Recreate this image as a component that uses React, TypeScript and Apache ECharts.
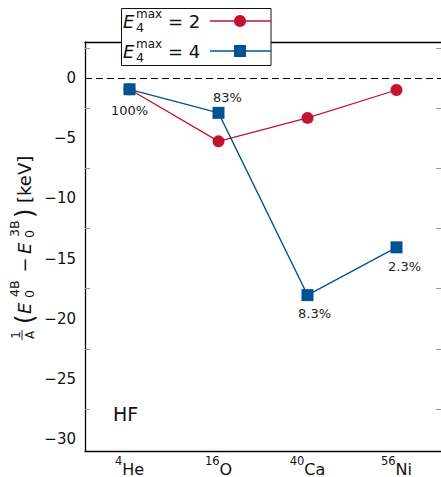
import React, { useEffect, useRef } from "react";
import * as echarts from "echarts";

const categories = ["4He", "16O", "40Ca", "56Ni"];
const massNumbers = ["4", "16", "40", "56"];
const elementSymbols = ["He", "O", "Ca", "Ni"];
const emax2Values = [-0.93, -5.26, -3.31, -0.99];
const emax4Values = [-0.93, -2.89, -18.04, -14.07];
const emax4Labels = ["100%", "83%", "8.3%", "2.3%"];
const legendValues = ["2", "4"];

const RED = "#c41230";
const BLUE = "#005293";
const FONT = '"DejaVu Sans"';
const labelOffsets = [
  [0, 21],
  [9, -15],
  [7, 18],
  [8, 19],
];

function txt(x: number, y: number, text: string, size: number, opts: any = {}) {
  return {
    type: "text",
    x,
    y,
    z: 100,
    style: {
      text,
      font: `${opts.italic ? "italic " : ""}${size}px ${FONT}`,
      fill: "#111",
      align: opts.align || "left",
      verticalAlign: "middle",
    },
  };
}

function yLabel() {
  const m = 24;
  return {
    type: "group",
    x: 0,
    y: 342,
    rotation: Math.PI / 2,
    children: [
      txt(7, 15.5, "1", 12, { align: "center" }),
      { type: "line", z: 100, shape: { x1: 2, y1: 22, x2: 12, y2: 22 }, style: { stroke: "#111", lineWidth: 0.9 } },
      txt(7, 29.5, "A", 12, { align: "center" }),
      txt(18, m + 1, "(", 24),
      txt(28, m, "E", 18, { italic: true }),
      txt(45, m - 9.5, "4B", 12.6),
      txt(44, m + 5, "0", 12.6),
      txt(77, m, "\u2212", 18, { align: "center" }),
      txt(88, m, "E", 18, { italic: true }),
      txt(105, m - 9.5, "3B", 12.6),
      txt(104, m + 5, "0", 12.6),
      txt(124, m + 1, ")", 24),
      txt(139, m, "[keV]", 18),
    ],
  };
}

function legendEntry(y: number, i: number) {
  const color = i === 0 ? RED : BLUE;
  const marker =
    i === 0
      ? { type: "circle", z: 101, shape: { cx: 240, cy: y, r: 6 }, style: { fill: color } }
      : { type: "rect", z: 101, shape: { x: 234, y: y - 6, width: 12, height: 12 }, style: { fill: color } };
  return [
    txt(123, y, "E", 18, { italic: true }),
    txt(136, y - 7, "max", 12),
    txt(136, y + 6, "4", 12.6),
    txt(168, y, "= " + legendValues[i], 18),
    { type: "line", z: 101, shape: { x1: 210, y1: y, x2: 271, y2: y }, style: { stroke: color, lineWidth: 1.3 } },
    marker,
  ];
}

export default function App() {
  const ref = useRef<HTMLDivElement>(null);
  useEffect(() => {
    const chart = echarts.init(ref.current!, null, { renderer: "svg" });
    const tickStyle = { color: "#999", width: 1 };
    const option: any = {
      animation: false,
      backgroundColor: "#fff",
      textStyle: { fontFamily: FONT },
      grid: { left: 85, top: 42, width: 357, height: 411 },
      xAxis: [
        {
          type: "category",
          data: categories,
          position: "bottom",
          axisLine: { onZero: false, lineStyle: { color: "#000", width: 1.3 } },
          axisTick: { inside: true, length: 10, alignWithLabel: true, lineStyle: tickStyle },
          axisLabel: {
            interval: 0,
            margin: 4,
            formatter: (_v: string, i: number) => `{sup|${massNumbers[i]}}{el|${elementSymbols[i]}}`,
            rich: {
              sup: { fontSize: 11.5, lineHeight: 10, verticalAlign: "top", fontFamily: FONT, color: "#111" },
              el: { fontSize: 16, lineHeight: 22, verticalAlign: "bottom", fontFamily: FONT, color: "#111" },
            },
          },
          splitLine: { show: false },
        },
        {
          type: "category",
          data: categories,
          position: "top",
          axisLine: { onZero: false, lineStyle: { color: "#000", width: 1.3 } },
          axisTick: { inside: true, length: 10, alignWithLabel: true, interval: 0, lineStyle: tickStyle },
          axisLabel: { show: false },
          splitLine: { show: false },
        },
      ],
      yAxis: [
        {
          type: "value",
          min: -31,
          max: 3,
          splitNumber: 7,
          position: "left",
          axisLine: { show: true, onZero: false, lineStyle: { color: "#000", width: 1.3 } },
          axisTick: { inside: true, length: 10, lineStyle: tickStyle },
          minorTick: { show: true, splitNumber: 2, length: 5, lineStyle: tickStyle },
          axisLabel: {
            showMinLabel: false,
            showMaxLabel: false,
            fontSize: 15,
            color: "#111",
            fontFamily: FONT,
            margin: 9,
            formatter: (v: number) => (v % 5 !== 0 ? "" : v < 0 ? "\u2212" + Math.abs(v) : String(v)),
          },
          splitLine: { show: false },
        },
        {
          type: "value",
          min: -31,
          max: 3,
          splitNumber: 7,
          position: "right",
          axisLine: { show: false },
          axisTick: { inside: true, length: 10, lineStyle: tickStyle },
          minorTick: { show: true, splitNumber: 2, length: 5, lineStyle: tickStyle },
          axisLabel: { show: false },
          splitLine: { show: false },
        },
      ],
      series: [
        {
          type: "line",
          name: "Emax2",
          data: emax2Values,
          symbol: "circle",
          symbolSize: 12,
          itemStyle: { color: RED },
          lineStyle: { color: RED, width: 1.3 },
          markLine: {
            silent: true,
            symbol: ["none", "none"],
            label: { show: false },
            lineStyle: { color: "#000", type: [7, 4], width: 1.2 },
            data: [{ yAxis: 0 }],
          },
        },
        {
          type: "line",
          name: "Emax4",
          data: emax4Values.map((v, i) => ({
            value: v,
            label: {
              show: true,
              formatter: emax4Labels[i],
              position: "inside",
              offset: labelOffsets[i],
              color: "#222",
              fontSize: 13,
              fontFamily: FONT,
              textBorderWidth: 0,
            },
          })),
          symbol: "rect",
          symbolSize: 12,
          itemStyle: { color: BLUE },
          lineStyle: { color: BLUE, width: 1.3 },
        },
      ],
      graphic: [
        yLabel(),
        {
          type: "rect",
          z: 99,
          shape: { x: 121.5, y: 8.5, width: 149.5, height: 57 },
          style: { fill: "#fff", stroke: "#111", lineWidth: 1 },
        },
        ...legendEntry(21, 0),
        ...legendEntry(51, 1),
        txt(113, 414, "HF", 19),
      ],
    };
    chart.setOption(option);
    return () => chart.dispose();
  }, []);
  return (
    <div
      ref={ref}
      style={{ position: "absolute", left: 0, top: 0, width: 441, height: 477 }}
    />
  );
}
